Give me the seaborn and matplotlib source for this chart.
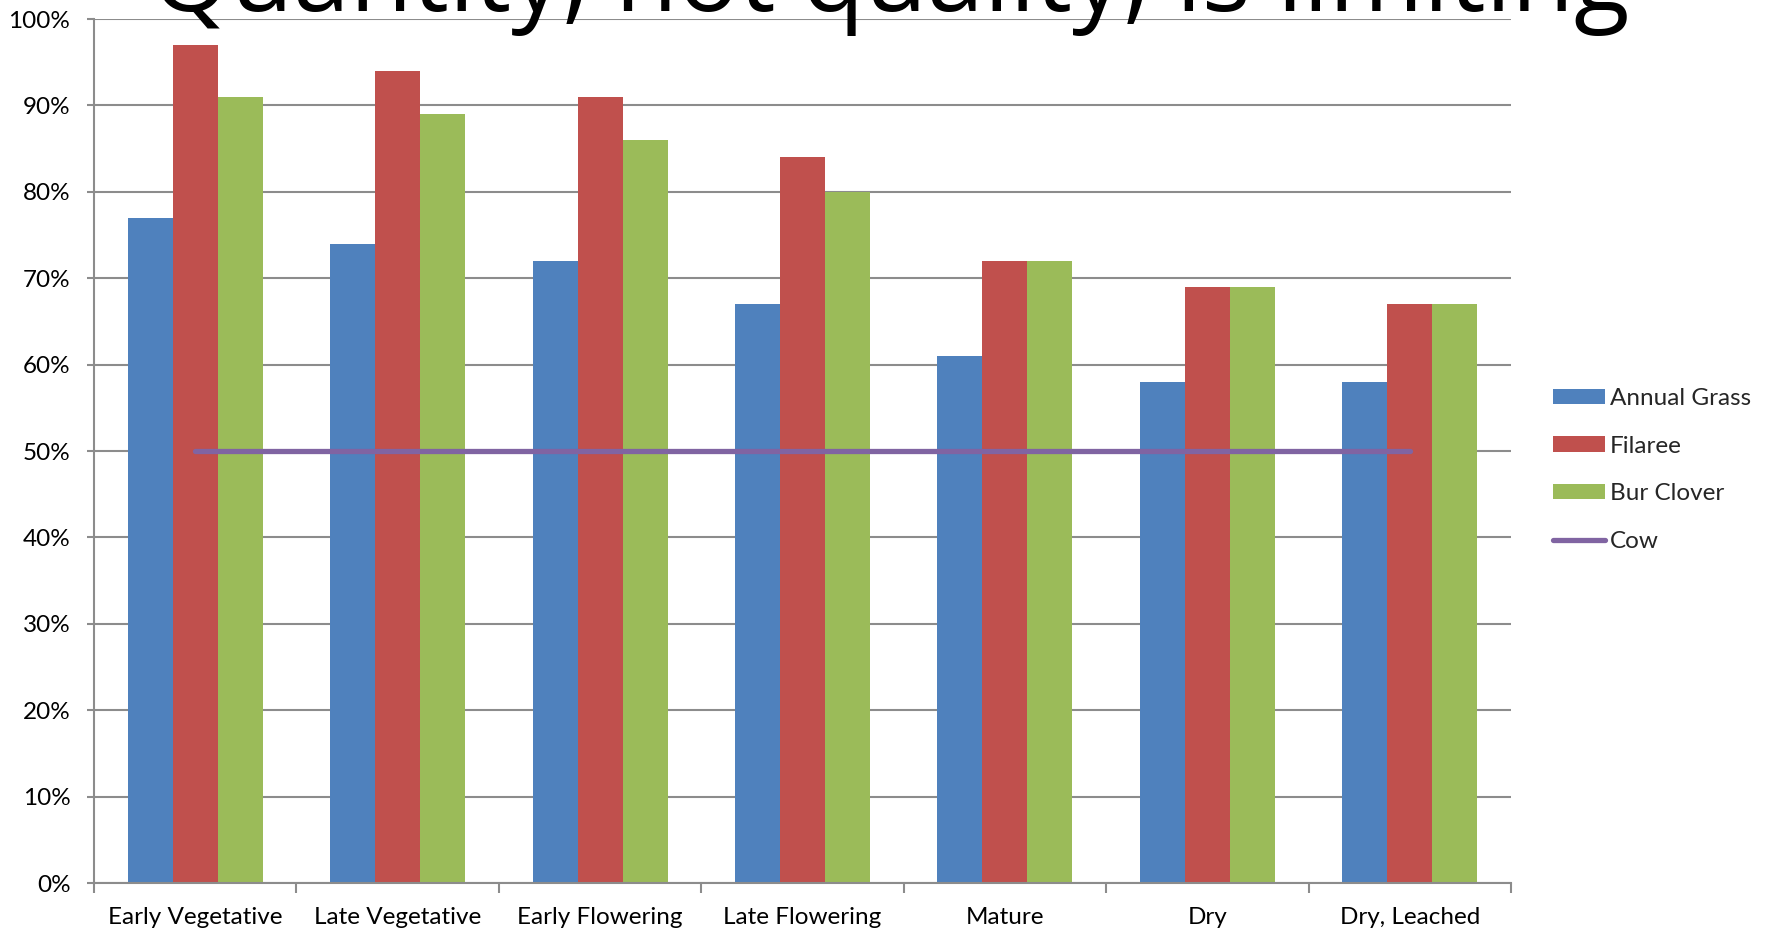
import numpy as np
import pandas as pd
import matplotlib
matplotlib.use("Agg")
import matplotlib.pyplot as plt
import seaborn as sns
from matplotlib.patches import Patch
from matplotlib.lines import Line2D
from matplotlib.ticker import FuncFormatter, FixedLocator

# dados
stages = ['Early Vegetative', 'Late Vegetative', 'Early Flowering', 'Late Flowering',
          'Mature', 'Dry', 'Dry, Leached']
annual_grass = [77, 74, 72, 67, 61, 58, 58]
filaree = [97, 94, 91, 84, 72, 69, 67]
bur_clover = [91, 89, 86, 80, 72, 69, 67]
cow = [50, 50, 50, 50, 50, 50, 50]
series_names = ['Annual Grass', 'Filaree', 'Bur Clover']
title = 'Quantity, not quality, is limiting'

colors = ['#4F81BD', '#C0504D', '#9BBB59']
cow_color = '#8064A2'

sns.set_theme(style="white")
plt.rcParams['font.family'] = ['Lato', 'DejaVu Sans']

df = pd.DataFrame({
    'stage': stages * 3,
    'value': annual_grass + filaree + bur_clover,
    'forage': [s for s in series_names for _ in stages],
})

W, H = 1767, 932
fs = 17.5
fig = plt.figure(figsize=(W / 100, H / 100), dpi=100)
ax = fig.add_axes([94 / W, 1 - 883 / H, (1511 - 94) / W, (883 - 19) / H])

sns.barplot(data=df, x='stage', y='value', hue='forage', order=stages,
            hue_order=series_names, palette=colors, width=0.667, gap=0,
            saturation=1, linewidth=0, legend=False, ax=ax)
sns.lineplot(x=np.arange(len(stages)), y=cow, color=cow_color, linewidth=3.8,
             solid_capstyle='round', ax=ax, legend=False)

ax.set_xlim(-0.5, len(stages) - 0.5)
ax.set_ylim(0, 100)
ax.set_yticks(np.arange(0, 101, 10))
ax.yaxis.set_major_formatter(FuncFormatter(lambda v, p: f'{v:.0f}%'))
ax.yaxis.grid(True, color='#8c8c8c', linewidth=1.5)
ax.set_axisbelow(True)
ax.set_xlabel('')
ax.set_ylabel('')

for s in ['top', 'right']:
    ax.spines[s].set_visible(False)
for s in ['left', 'bottom']:
    ax.spines[s].set_color('#8c8c8c')
    ax.spines[s].set_linewidth(1.5)

ax.tick_params(axis='y', which='major', direction='out', length=5, width=1.5,
               color='#8c8c8c', left=True, pad=12, labelsize=fs, labelcolor='black')
ax.tick_params(axis='x', which='major', length=0, pad=17, labelsize=fs, labelcolor='black')
ax.xaxis.set_minor_locator(FixedLocator(np.arange(-0.5, len(stages), 1)))
ax.tick_params(axis='x', which='minor', direction='out', length=7, width=1.5,
               color='#8c8c8c', bottom=True)

# titulo grande cortado no topo
t = fig.text(890 / W, 1 - 11 / H, title, ha='center', va='baseline',
             fontsize=60, color='black', fontfamily=['Open Sans', 'DejaVu Sans'])
fig.canvas.draw()
w = t.get_window_extent().width
t.set_fontsize(60 * 1476 / w)

handles = [Patch(facecolor=c, edgecolor='none') for c in colors]
handles.append(Line2D([0], [0], color=cow_color, linewidth=3.8, solid_capstyle='round'))
fig.legend(handles, series_names + ['Cow'], loc='center left',
           bbox_to_anchor=(1553 / W, 1 - 470 / H), frameon=False, fontsize=fs,
           handlelength=2.15, handleheight=0.58, handletextpad=0.2,
           labelspacing=1.1, borderpad=0, borderaxespad=0)

fig.savefig('out.png', dpi=100)
